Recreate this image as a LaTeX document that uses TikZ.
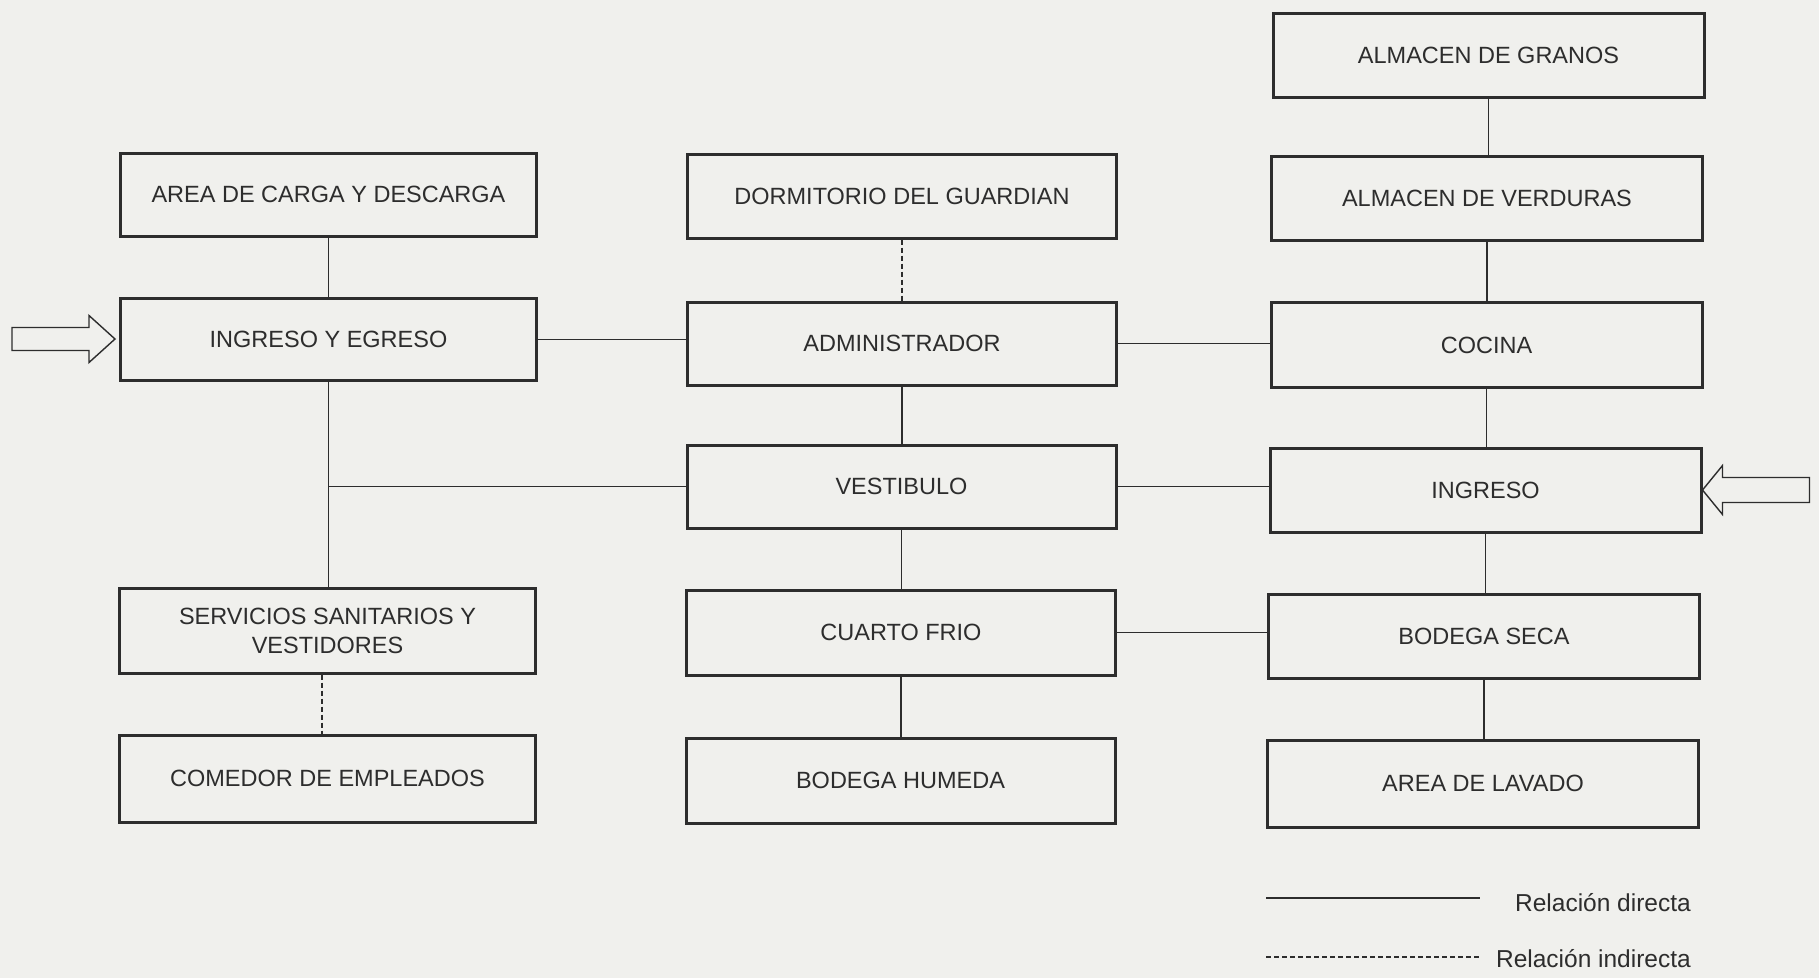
\documentclass[tikz,border=0pt]{standalone}
\usepackage{fontspec}
\setmainfont{Liberation Sans}
\definecolor{bg}{RGB}{240,240,237}
\definecolor{ink}{RGB}{45,45,45}
\tikzset{
  box/.style={draw=ink, line width=3pt, fill=bg, text=ink, align=center,
    font=\fontsize{23.5}{29}\selectfont, inner sep=2pt},
  lw/.style={minimum width=416pt},
  mw/.style={minimum width=429pt},
  rw/.style={minimum width=431pt},
  rel/.style={draw=ink, line width=1.4pt},
  indrel/.style={draw=ink, line width=1.4pt, dash pattern=on 5pt off 3pt},
  blockarrow/.style={draw=ink, line width=1.4pt, fill=bg, line join=miter},
  legendtext/.style={text=ink, font=\fontsize{24.5}{29}\selectfont, inner sep=0pt}
}
\begin{document}
\begin{tikzpicture}[x=1pt,y=-1pt]
\fill[bg] (0,0) rectangle (1819,978);
\useasboundingbox (0,0) rectangle (1819,978);

% left column
\node[box,lw,minimum height=83pt] (area) at (328.5,194.5) {AREA DE CARGA Y DESCARGA};
\node[box,lw,minimum height=82pt] (iye) at (328.5,339.5) {INGRESO Y EGRESO};
\node[box,lw,minimum height=85pt] (serv) at (327.5,630.5) {SERVICIOS SANITARIOS Y\\VESTIDORES};
\node[box,lw,minimum height=87pt] (comedor) at (327.5,778.5) {COMEDOR DE EMPLEADOS};

% middle column
\node[box,mw,minimum height=84pt] (dorm) at (902,196) {DORMITORIO DEL GUARDIAN};
\node[box,mw,minimum height=83pt] (admin) at (902,343.5) {ADMINISTRADOR};
\node[box,mw,minimum height=83pt] (vest) at (901.5,486.5) {VESTIBULO};
\node[box,mw,minimum height=85pt] (cuarto) at (901,632.5) {CUARTO FRIO};
\node[box,mw,minimum height=85pt] (bodegah) at (900.5,780.5) {BODEGA HUMEDA};

% right column
\node[box,rw,minimum height=84pt] (granos) at (1488.5,55) {ALMACEN DE GRANOS};
\node[box,rw,minimum height=84pt] (verduras) at (1487,198) {ALMACEN DE VERDURAS};
\node[box,rw,minimum height=85pt] (cocina) at (1486.5,345) {COCINA};
\node[box,rw,minimum height=84pt] (ingreso) at (1485.5,490) {INGRESO};
\node[box,rw,minimum height=84pt] (seca) at (1484,636) {BODEGA SECA};
\node[box,rw,minimum height=87pt] (lavado) at (1483,783.5) {AREA DE LAVADO};

% left column connectors
\draw[rel] (area.south) -- (iye.north);
\draw[rel] (iye.south) -- (serv.north -| iye.south);
\draw[rel] (vest.west) -- (vest.west -| iye.south);
\draw[indrel] (serv.south -| 322,0) -- (comedor.north -| 322,0);
\draw[rel] (iye.east) -- (iye.east -| admin.west);

% middle column connectors
\draw[indrel] (dorm.south) -- (admin.north);
\draw[rel] (admin.south) -- (vest.north -| admin.south);
\draw[rel] (vest.south) -- (cuarto.north -| vest.south);
\draw[rel] (cuarto.south) -- (bodegah.north -| cuarto.south);
\draw[rel] (admin.east) -- (admin.east -| cocina.west);
\draw[rel] (vest.east) -- (vest.east -| ingreso.west);
\draw[rel] (cuarto.east) -- (cuarto.east -| seca.west);

% right column connectors
\draw[rel] (granos.south) -- (verduras.north -| granos.south);
\draw[rel] (verduras.south) -- (cocina.north -| verduras.south);
\draw[rel] (cocina.south) -- (ingreso.north -| cocina.south);
\draw[rel] (ingreso.south) -- (seca.north -| ingreso.south);
\draw[rel] (seca.south) -- (lavado.north -| seca.south);

% entry arrows
\coordinate (tipL) at (115,339);
\draw[blockarrow] (tipL) -- ++(-26,-23.5) -- ++(0,12) -- (12,327.5) -- (12,350.5) -- (89,350.5) -- (89,362.5) -- cycle;
\coordinate (tipR) at (ingreso.east);
\draw[blockarrow] (tipR) -- ++(20,-24.5) -- ++(0,12) -- ++(87,0) -- ++(0,25) -- ++(-87,0) -- ++(0,12) -- cycle;

% legend
\coordinate (l1a) at (1266,898);
\coordinate (l1b) at (1480,898);
\coordinate (l2a) at (1266,957);
\coordinate (l2b) at (1480,957);
\draw[rel] (l1a) -- (l1b);
\draw[indrel] (l2a) -- (l2b);
\node[legendtext, anchor=east] (ld) at (1691,903) {Relación directa};
\node[legendtext, anchor=east] (li) at (1691,959) {Relación indirecta};
\end{tikzpicture}
\end{document}
